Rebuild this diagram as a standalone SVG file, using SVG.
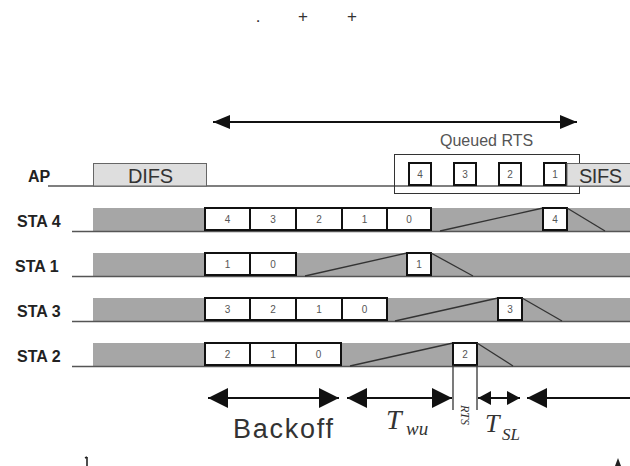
<svg xmlns="http://www.w3.org/2000/svg" width="630" height="466" viewBox="0 0 630 466">
  <style>
    .lbl { font-family: "Liberation Sans", Arial, sans-serif; font-weight: bold; font-size: 16px; fill: #222; }
    .band { fill: #a6a6a6; }
    .base { stroke: #555; stroke-width: 1.5; }
    .slot { fill: #fff; stroke: #111; stroke-width: 2; }
    .num { font-family: "Liberation Sans", Arial, sans-serif; font-size: 10px; fill: #555; text-anchor: middle; }
    .ramp { stroke: #333; stroke-width: 1.3; fill: none; }
    .ifs { fill: #dedede; stroke: #666; stroke-width: 1; }
    .ifsTxt { font-family: "Liberation Sans", Arial, sans-serif; font-size: 20px; fill: #333; }
    .arr { stroke: #111; stroke-width: 2.2; fill: none; }
    .math { font-family: "Liberation Serif", "DejaVu Serif", serif; font-style: italic; fill: #333; }
  </style>
  <defs>
    <marker id="ahBig" viewBox="0 0 20 20" refX="20" refY="10" markerWidth="20" markerHeight="20" markerUnits="userSpaceOnUse" orient="auto-start-reverse">
      <path d="M0,0 L20,10 L0,20 z" fill="#111"/>
    </marker>
    <marker id="ahTop" viewBox="0 0 17 14" refX="17" refY="7" markerWidth="17" markerHeight="14" markerUnits="userSpaceOnUse" orient="auto-start-reverse">
      <path d="M0,0 L17,7 L0,14 z" fill="#111"/>
    </marker>
    <marker id="ahSmall" viewBox="0 0 13 14" refX="13" refY="7" markerWidth="13" markerHeight="14" markerUnits="userSpaceOnUse" orient="auto-start-reverse">
      <path d="M0,0 L13,7 L0,14 z" fill="#111"/>
    </marker>
  </defs>

  <rect width="630" height="466" fill="#fff"/>

  <!-- marks along the top edge -->
  <g id="top-marks" font-family="Liberation Sans, Arial, sans-serif" font-size="17" fill="#333" text-anchor="middle">
    <text x="258" y="22">.</text>
    <text x="303" y="22">+</text>
    <text x="352" y="22">+</text>
  </g>

  <!-- access point line -->
  <g id="ap">
    <text class="lbl" x="28" y="182">AP</text>
    <line class="base" x1="48" y1="186" x2="630" y2="186"/>
    <rect class="ifs" x="93.5" y="163.5" width="113" height="22.5"/>
    <text class="ifsTxt" x="128" y="183" textLength="45">DIFS</text>
  </g>

  <!-- queued RTS frames at the AP -->
  <g id="queued-rts">
    <text x="440" y="146" font-family="Liberation Sans, Arial, sans-serif" font-size="16" fill="#555">Queued RTS</text>
    <rect x="394.5" y="154.5" width="185" height="39" fill="none" stroke="#333" stroke-width="1"/>
    <rect class="slot" x="409" y="163" width="22" height="22"/><text class="num" x="420" y="178">4</text>
    <rect class="slot" x="454" y="163" width="22" height="22"/><text class="num" x="465" y="178">3</text>
    <rect class="slot" x="499" y="163" width="22" height="22"/><text class="num" x="510" y="178">2</text>
    <rect class="slot" x="544" y="163" width="22" height="22"/><text class="num" x="555" y="178">1</text>
  </g>

  <g id="sifs">
    <rect class="ifs" x="567" y="163.5" width="66" height="22.5"/>
    <text class="ifsTxt" x="579" y="183" textLength="43">SIFS</text>
  </g>

  <!-- STA 4 -->
  <g id="sta4">
    <text class="lbl" x="17" y="227">STA 4</text>
    <rect class="band" x="93" y="208" width="537" height="23"/>
    <line class="base" x1="72" y1="231.5" x2="630" y2="231.5"/>
    <rect class="slot" x="205" y="208" width="45" height="22"/><text class="num" x="227.5" y="223">4</text>
    <rect class="slot" x="250" y="208" width="46" height="22"/><text class="num" x="273" y="223">3</text>
    <rect class="slot" x="296" y="208" width="46" height="22"/><text class="num" x="319" y="223">2</text>
    <rect class="slot" x="342" y="208" width="45" height="22"/><text class="num" x="364.5" y="223">1</text>
    <rect class="slot" x="387" y="208" width="44" height="22"/><text class="num" x="409" y="223">0</text>
    <polyline class="ramp" points="440,231 543,208"/>
    <rect class="slot" x="543" y="208" width="24" height="22"/><text class="num" x="555" y="223">4</text>
    <polyline class="ramp" points="567,208 605,231"/>
  </g>

  <!-- STA 1 -->
  <g id="sta1">
    <text class="lbl" x="15" y="272">STA 1</text>
    <rect class="band" x="93" y="253" width="537" height="23"/>
    <line class="base" x1="72" y1="276.5" x2="630" y2="276.5"/>
    <rect class="slot" x="205" y="253" width="45" height="22"/><text class="num" x="227.5" y="268">1</text>
    <rect class="slot" x="250" y="253" width="46" height="22"/><text class="num" x="273" y="268">0</text>
    <polyline class="ramp" points="305,276 407,253"/>
    <rect class="slot" x="407" y="253" width="24" height="22"/><text class="num" x="419" y="268">1</text>
    <polyline class="ramp" points="431,253 473,276"/>
  </g>

  <!-- STA 3 -->
  <g id="sta3">
    <text class="lbl" x="17" y="317">STA 3</text>
    <rect class="band" x="93" y="298" width="537" height="23"/>
    <line class="base" x1="72" y1="321.5" x2="630" y2="321.5"/>
    <rect class="slot" x="205" y="298" width="45" height="22"/><text class="num" x="227.5" y="313">3</text>
    <rect class="slot" x="250" y="298" width="46" height="22"/><text class="num" x="273" y="313">2</text>
    <rect class="slot" x="296" y="298" width="46" height="22"/><text class="num" x="319" y="313">1</text>
    <rect class="slot" x="342" y="298" width="45" height="22"/><text class="num" x="364.5" y="313">0</text>
    <polyline class="ramp" points="395,321 498,298"/>
    <rect class="slot" x="498" y="298" width="24" height="22"/><text class="num" x="510" y="313">3</text>
    <polyline class="ramp" points="522,298 562,321"/>
  </g>

  <!-- STA 2 -->
  <g id="sta2">
    <text class="lbl" x="17" y="362">STA 2</text>
    <rect class="band" x="93" y="343" width="537" height="23"/>
    <line class="base" x1="72" y1="366.5" x2="630" y2="366.5"/>
    <rect class="slot" x="205" y="343" width="45" height="22"/><text class="num" x="227.5" y="358">2</text>
    <rect class="slot" x="250" y="343" width="46" height="22"/><text class="num" x="273" y="358">1</text>
    <rect class="slot" x="296" y="343" width="45" height="22"/><text class="num" x="318.5" y="358">0</text>
    <polyline class="ramp" points="350,366 453,343"/>
    <rect class="slot" x="453" y="343" width="24" height="22"/><text class="num" x="465" y="358">2</text>
    <polyline class="ramp" points="477,343 513,366"/>
    <!-- RTS duration guides -->
    <line x1="453" y1="365" x2="453" y2="410" stroke="#333" stroke-width="1.3"/>
    <line x1="477" y1="365" x2="477" y2="410" stroke="#333" stroke-width="1.3"/>
    <text class="math" font-size="12" transform="translate(461,405) rotate(90)">RTS</text>
  </g>

  <!-- interval arrows -->
  <g id="connectors">
    <line class="arr" x1="213" y1="122" x2="577" y2="122" stroke-width="3" marker-start="url(#ahTop)" marker-end="url(#ahTop)"/>
    <line class="arr" x1="208" y1="398" x2="339" y2="398" marker-start="url(#ahBig)" marker-end="url(#ahBig)"/>
    <line class="arr" x1="347" y1="398" x2="452" y2="398" marker-start="url(#ahBig)" marker-end="url(#ahBig)"/>
    <line class="arr" x1="478" y1="398" x2="520" y2="398" marker-start="url(#ahSmall)" marker-end="url(#ahSmall)"/>
    <line class="arr" x1="527" y1="398" x2="630" y2="398" marker-start="url(#ahBig)"/>
  </g>

  <!-- interval labels -->
  <g id="interval-labels">
    <text x="233" y="438" font-family="Liberation Sans, Arial, sans-serif" font-size="27" fill="#333" textLength="100">Backoff</text>
    <text class="math" x="386" y="429" font-size="28">T</text>
    <text class="math" x="406" y="435" font-size="19">wu</text>
    <text class="math" x="485" y="432" font-size="26">T</text>
    <text class="math" x="502" y="440" font-size="17">SL</text>
  </g>

  <!-- marks along the bottom edge -->
  <g id="bottom-marks" stroke="#222" stroke-width="1.6" fill="#222">
    <line x1="87" y1="457" x2="87" y2="466"/>
    <line x1="85" y1="458" x2="87" y2="457"/>
    <path d="M618,458 L615,466 L621,466 z" stroke="none"/>
  </g>
</svg>
